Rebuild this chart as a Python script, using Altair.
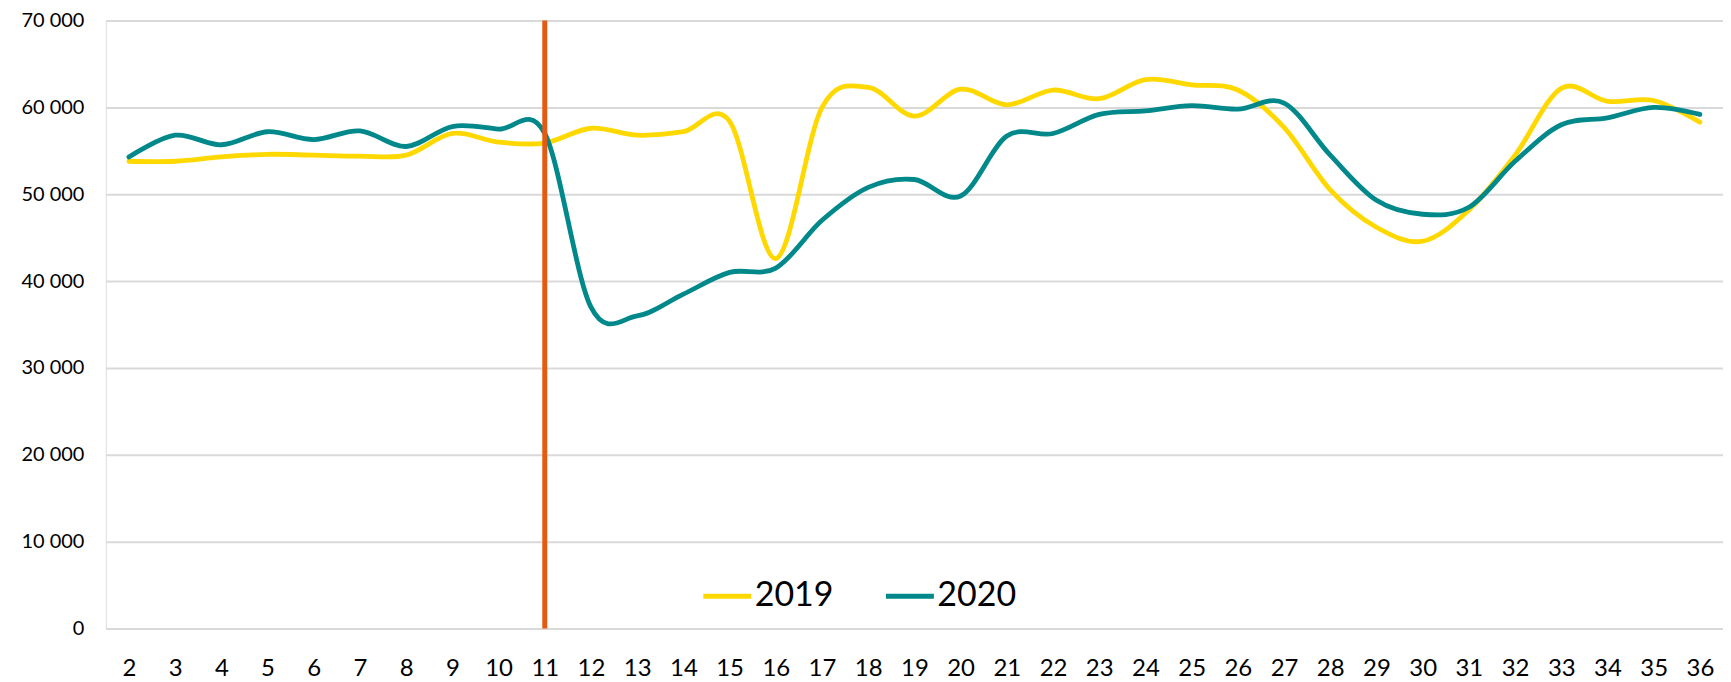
import altair as alt
import pandas as pd

weeks = list(range(2, 37))
y2019 = [53800, 53800, 54300, 54600, 54500, 54400, 54500, 57000, 56000, 55900,
         57600, 56800, 57200, 58400, 42600, 60000, 62300, 59000, 62100, 60300,
         62000, 61000, 63200, 62600, 62000, 57700, 50500, 46200, 44600, 48200,
         54500, 62200, 60700, 60800, 58300]
y2020 = [54300, 56800, 55700, 57200, 56300, 57300, 55500, 57800, 57500, 57000,
         37000, 36000, 38500, 41000, 41500, 47000, 50800, 51700, 49800, 56700,
         57000, 59200, 59600, 60200, 59800, 60500, 54500, 49300, 47700, 48500,
         53800, 58000, 58800, 60000, 59200]
series = ["2019", "2020"]
colors = ["#FFD800", "#00888A"]
marker_week = [11]
marker_from = [70000]
marker_to = [0]
y_ticks = [0, 10000, 20000, 30000, 40000, 50000, 60000, 70000]

rows = []
for w, a, b in zip(weeks, y2019, y2020):
    rows.append({"vecka": w, "serie": "2019", "värde": a})
    rows.append({"vecka": w, "serie": "2020", "värde": b})
df = pd.DataFrame(rows)
mk = pd.DataFrame({"vecka": marker_week, "y1": marker_from, "y2": marker_to})

FONT = "Lato"

xscale = alt.Scale(domain=[1.5, 36.5], nice=False, zero=False)
yscale = alt.Scale(domain=[0, 70000], nice=False)

lines = alt.Chart(df).mark_line(
    interpolate="cardinal", strokeWidth=4.8, strokeCap="round", strokeJoin="round"
).encode(
    x=alt.X("vecka:Q", scale=xscale, title=None,
            axis=alt.Axis(values=weeks, grid=False, domain=False, ticks=False,
                          labelFont=FONT, labelFontSize=24, labelColor="#000000",
                          labelPadding=40, labelBaseline="middle", labelFlush=False,
                          labelOverlap=False)),
    y=alt.Y("värde:Q", scale=yscale, title=None,
            axis=alt.Axis(values=y_ticks, grid=True, gridColor="#D9D9D9", gridWidth=2,
                          domain=False, ticks=False, labelFont=FONT, labelFontSize=20,
                          labelColor="#000000", labelPadding=22,
                          labelExpr="replace(format(datum.value, ','), ',', ' ')")),
    color=alt.Color("serie:N", scale=alt.Scale(domain=series, range=colors),
                    legend=alt.Legend(title=None, orient="none", direction="horizontal",
                                      legendX=596, legendY=550, symbolType="stroke",
                                      symbolSize=2304, symbolStrokeWidth=5,
                                      labelFont=FONT, labelFontSize=34,
                                      labelColor="#000000", labelOffset=1,
                                      columnPadding=42, padding=0)),
)

rule = alt.Chart(mk).mark_rule(color="#E35B12", strokeWidth=5).encode(
    x=alt.X("vecka:Q", scale=xscale),
    y=alt.Y("y1:Q", scale=yscale),
    y2="y2:Q",
)

chart = alt.layer(lines, rule).properties(
    width=1620, height=609,
    autosize=alt.AutoSizeParams(type="none"),
    padding={"left": 98, "top": 12, "right": 0, "bottom": 54},
).configure_view(stroke=None).configure(background="white")

chart.save("out.html", embed_options={"renderer": "svg", "actions": False})
